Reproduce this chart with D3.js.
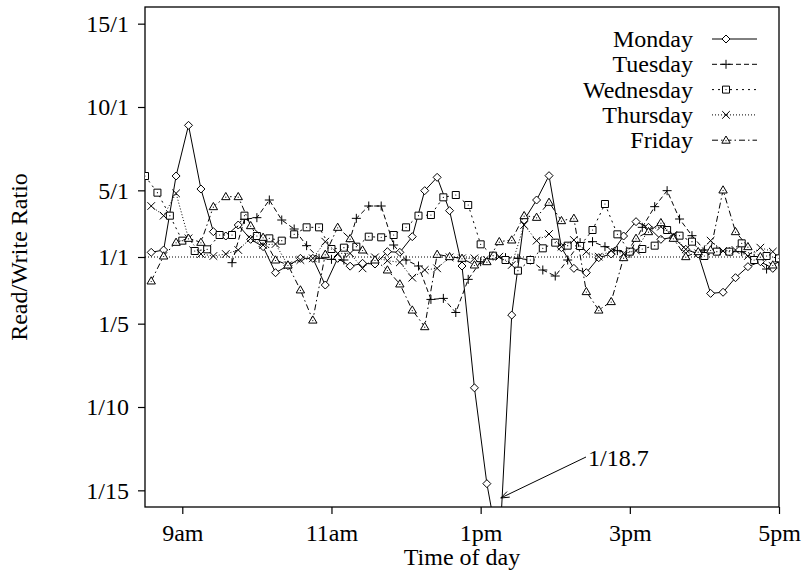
<!DOCTYPE html>
<html>
<head>
<meta charset="utf-8">
<script src="https://cdn.jsdelivr.net/npm/d3@7/dist/d3.min.js"></script>
<style>
  html, body { margin: 0; padding: 0; background: #fff; }
  svg { display: block; }
  text { font-family: "Liberation Serif", "Times New Roman", serif; fill: #000; }
</style>
</head>
<body>
<svg id="chart" width="806" height="578"></svg>
<script>
// Read/write ratio sampled every 10 minutes across the working day.
// Values are plain ratios: 2.5 means 2.5 reads per write, 0.25 means 1 read per 4 writes.

// Sampling grids (minutes since midnight)
const gridOnTen = d3.range(8 * 60 + 30, 17 * 60 + 1, 10);   // 8:30, 8:40, ... 17:00
const gridOffset = d3.range(8 * 60 + 35, 17 * 60, 10);      // 8:35, 8:45, ... 16:55

const mondayValues = [
  1.28, 1.42, 5.86, 8.9, 5.08, 2.52, 2.26, 2.92, 2.06, 1.62,
  0.515, 0.658, 0.926, 0.926, 0.373, 0.926, 0.645, 0.725, 0.704, 1.32,
  1.28, 2.22, 4.98, 5.78, 3.78, 0.649, 0.113, 0.0685, 0.0535, 0.223,
  3.22, 4.42, 5.88, 1.56, 0.595, 0.515, 0.962, 1.18, 2.26, 3.12,
  2.78, 2.06, 2.18, 1.46, 1.18, 0.314, 0.321, 0.446, 0.633, 0.781,
  0.595
];

const tuesdayValues = [
  0.746, 3.26, 3.36, 4.42, 3.22, 2.68, 1.68, 0.926, 0.877, 0.847,
  3.32, 4.06, 4.06, 1.72, 0.847, 0.649, 0.282, 0.287, 0.231, 0.427,
  0.781, 1.06, 0.962, 0.926, 0.847, 0.562, 0.467, 0.847, 1.86, 1.92,
  1.62, 1.38, 1.22, 2.78, 4.02, 4.98, 3.28, 2.28, 1.42, 1.38,
  1.32, 1.32, 0.926, 0.581, 0.781
];
const tuesdayFirstSlot = 7; // first reading at 9:40

const wednesdayValues = [
  5.86, 4.86, 3.48, 1.98, 1.36, 1.46, 2.32, 2.32, 3.48, 2.26,
  2.12, 1.98, 2.36, 2.78, 2.78, 1.48, 1.56, 1.62, 2.22, 2.18,
  2.32, 2.78, 3.48, 3.52, 4.58, 4.72, 4.12, 1.76, 1.08, 0.847,
  0.549, 0.847, 1.52, 1.86, 1.68, 1.66, 2.62, 4.18, 2.36, 1.32,
  1.48, 1.68, 2.62, 2.28, 1.92, 1.06, 1.32, 1.32, 1.82, 0.847,
  1.06, 0.926
];

const thursdayValues = [
  4.06, 3.48, 4.82, 2.12, 1.18, 1.06, 1.18, 1.42, 2.12, 1.72,
  1.78, 0.667, 0.847, 0.926, 1.92, 1.22, 1.22, 0.595, 0.98, 0.82,
  0.758, 0.446, 0.562, 0.595, 0.98, 0.926, 0.926, 0.847, 1.02, 0.676,
  2.92, 1.98, 2.38, 1.62, 2.02, 1.32, 1.02, 1.38, 1.2, 1.38,
  2.62, 2.82, 2.32, 1.46, 1.22, 1.98, 1.36, 1.42, 1.06, 1.56,
  1.32
];

const fridayValues = [
  0.41, 1.06, 1.88, 2.12, 1.88, 4.02, 4.62, 4.62, 2.88, 2.18,
  0.847, 0.676, 0.336, 0.209, 1.16, 2.78, 2.1, 1.42, 0.847, 0.562,
  0.382, 0.239, 0.193, 1.16, 1.02, 0.926, 0.676, 0.781, 1.92, 2.02,
  3.48, 3.38, 4.28, 3.18, 3.32, 0.325, 0.239, 0.272, 0.962, 2.12,
  2.52, 3.06, 2.12, 1.02, 1.32, 1.42, 5.02, 2.52, 1.62, 1.02,
  0.676
];

const dayNames = ["Monday", "Tuesday", "Wednesday", "Thursday", "Friday"];

const yTickValues = [1 / 15, 1 / 10, 1 / 5, 1, 5, 10, 15];
const yTickLabels = ["1/15", "1/10", "1/5", "1/1", "5/1", "10/1", "15/1"];
const xTickValues = [9 * 60, 11 * 60, 13 * 60, 15 * 60, 17 * 60];
const xTickLabels = ["9am", "11am", "1pm", "3pm", "5pm"];

// Lowest Monday reading, called out on the chart
const calloutTime = 13 * 60 + 15;
const calloutLabel = "1/18.7";

// ---------------------------------------------------------------------------

const series = [
  { name: dayNames[0], times: gridOffset, values: mondayValues, dash: null, marker: "diamond" },
  { name: dayNames[1], times: gridOnTen.slice(tuesdayFirstSlot), values: tuesdayValues, dash: "5,3", marker: "plus" },
  { name: dayNames[2], times: gridOnTen, values: wednesdayValues, dash: "2,4", marker: "square" },
  { name: dayNames[3], times: gridOffset, values: thursdayValues, dash: "1,2", marker: "cross" },
  { name: dayNames[4], times: gridOffset, values: fridayValues, dash: "6,3,1.5,3", marker: "triangle" }
];

const margin = { left: 145, right: 779, top: 7, bottom: 507 };
const svg = d3.select("#chart");

// Ratio axis: r >= 1 sits at r - 1 above the 1/1 line, r < 1 at 1/r - 1 below it.
const fold = r => (r >= 1 ? r - 1 : -(1 / r - 1));
const yLin = d3.scaleLinear().domain([-15, 15]).range([margin.bottom, margin.top]);
const y = r => yLin(fold(r));
const x = d3.scaleLinear().domain([8 * 60 + 30, 17 * 60]).range([margin.left, margin.right]);

svg.append("defs").append("clipPath").attr("id", "plot-clip")
  .append("rect")
  .attr("x", margin.left).attr("y", margin.top)
  .attr("width", margin.right - margin.left)
  .attr("height", margin.bottom - margin.top);

// 1/1 reference line
svg.append("line")
  .attr("x1", margin.left).attr("x2", margin.right)
  .attr("y1", y(1)).attr("y2", y(1))
  .attr("stroke", "#000").attr("stroke-width", 1)
  .attr("stroke-dasharray", "1,2");

// Axes
const xAxis = d3.axisBottom(x)
  .tickValues(xTickValues)
  .tickFormat((d, i) => xTickLabels[i])
  .tickSize(7).tickSizeOuter(0).tickPadding(10);
const gx = svg.append("g").attr("transform", `translate(0,${margin.bottom})`).call(xAxis);

const yAxis = d3.axisLeft(yLin)
  .tickValues(yTickValues.map(fold))
  .tickFormat((d, i) => yTickLabels[i])
  .tickSize(7).tickSizeOuter(0).tickPadding(9);
const gy = svg.append("g").attr("transform", `translate(${margin.left},0)`).call(yAxis);

[gx, gy].forEach(g => {
  g.select(".domain").remove();
  g.selectAll(".tick line").attr("stroke", "#000").attr("stroke-width", 1.2);
  g.selectAll(".tick text")
    .attr("font-family", "'Liberation Serif', 'Times New Roman', serif")
    .attr("font-size", 24).attr("fill", "#000");
});
gy.selectAll(".tick text").attr("dy", "0.33em");

// Frame
svg.append("rect")
  .attr("x", margin.left).attr("y", margin.top)
  .attr("width", margin.right - margin.left)
  .attr("height", margin.bottom - margin.top)
  .attr("fill", "none").attr("stroke", "#000").attr("stroke-width", 1.3);

// Axis titles
svg.append("text")
  .attr("x", (margin.left + margin.right) / 2).attr("y", 565)
  .attr("text-anchor", "middle").attr("font-size", 24)
  .text("Time of day");
svg.append("text")
  .attr("transform", `translate(27,${(margin.top + margin.bottom) / 2}) rotate(-90)`)
  .attr("text-anchor", "middle").attr("font-size", 24)
  .text("Read/Write Ratio");

// Point symbols
function drawMarker(g, kind) {
  const s = { stroke: "#000", "stroke-width": 1, fill: "none" };
  const add = (tag, attrs) => {
    const el = g.append(tag);
    Object.entries(Object.assign({}, s, attrs)).forEach(([k, v]) => el.attr(k, v));
    return el;
  };
  switch (kind) {
    case "diamond":
      add("path", { d: "M0,-4L4,0L0,4L-4,0Z", fill: "#fff" });
      break;
    case "plus":
      add("path", { d: "M-4.5,0H4.5M0,-4.5V4.5" });
      break;
    case "square":
      add("path", { d: "M-3.5,-3.5H3.5V3.5H-3.5Z", fill: "#fff" });
      add("circle", { r: 0.6, fill: "#000", stroke: "none" });
      break;
    case "cross":
      add("path", { d: "M-3.8,-3.8L3.8,3.8M-3.8,3.8L3.8,-3.8" });
      break;
    case "triangle":
      add("path", { d: "M0,-4.2L4.2,3L-4.2,3Z", fill: "#fff" });
      add("circle", { cy: 0.5, r: 0.6, fill: "#000", stroke: "none" });
      break;
  }
}

const plot = svg.append("g").attr("clip-path", "url(#plot-clip)");
const line = d3.line().x(d => x(d.t)).y(d => y(d.v));

series.forEach(s => {
  const pts = s.values.map((v, i) => ({ t: s.times[i], v }));
  const g = plot.append("g");
  g.append("path")
    .datum(pts)
    .attr("d", line)
    .attr("fill", "none")
    .attr("stroke", "#000")
    .attr("stroke-width", 1)
    .attr("stroke-dasharray", s.dash);
  g.selectAll("g.pt")
    .data(pts)
    .join("g")
    .attr("class", "pt")
    .attr("transform", d => `translate(${x(d.t)},${y(d.v)})`)
    .each(function () { drawMarker(d3.select(this), s.marker); });
});

// Legend
const legend = svg.append("g");
series.forEach((s, i) => {
  const base = 47 + i * 25.3;
  const ly = base - 8;
  legend.append("text")
    .attr("x", 693).attr("y", base)
    .attr("text-anchor", "end").attr("font-size", 24)
    .text(s.name);
  legend.append("line")
    .attr("x1", 712).attr("x2", 757)
    .attr("y1", ly).attr("y2", ly)
    .attr("stroke", "#000").attr("stroke-width", 1)
    .attr("stroke-dasharray", s.dash);
  const m = legend.append("g").attr("transform", `translate(726,${ly})`);
  drawMarker(m, s.marker);
});

// Callout for the lowest Monday reading
const tipX = x(calloutTime) + 1.5;
const tipY = margin.bottom - 9;
const tailX = 586, tailY = 457;
const ang = Math.atan2(tipY - tailY, tipX - tailX);
const headLen = 9, spread = 0.35;
svg.append("path")
  .attr("d",
    `M${tailX},${tailY}L${tipX},${tipY}` +
    `M${tipX - headLen * Math.cos(ang - spread)},${tipY - headLen * Math.sin(ang - spread)}` +
    `L${tipX},${tipY}` +
    `L${tipX - headLen * Math.cos(ang + spread)},${tipY - headLen * Math.sin(ang + spread)}`)
  .attr("fill", "none").attr("stroke", "#000").attr("stroke-width", 1);
svg.append("text")
  .attr("x", 588).attr("y", 466)
  .attr("font-size", 24)
  .text(calloutLabel);
</script>
</body>
</html>
